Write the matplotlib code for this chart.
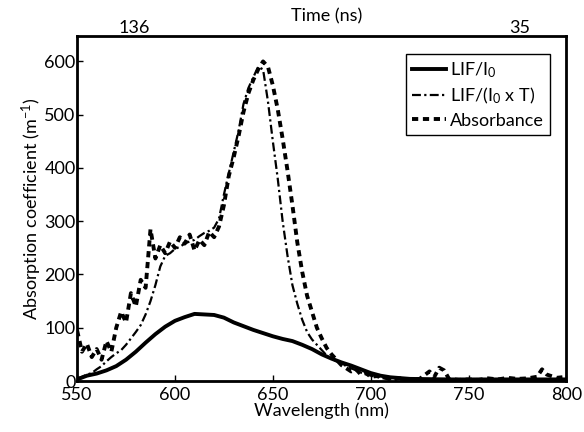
import matplotlib
matplotlib.use("Agg")
import matplotlib.pyplot as plt

plt.rcParams["font.family"] = ["Lato", "DejaVu Sans"]
plt.rcParams["mathtext.default"] = "regular"

# LIF/I0 (solid)
wl_lif = [550, 555, 560, 565, 570, 575, 580, 585, 590, 595, 600, 605, 610, 615,
          620, 625, 630, 635, 640, 645, 650, 655, 660, 665, 670, 675, 680, 685,
          690, 695, 700, 705, 710, 720, 740, 760, 780, 800]
lif = [3, 10, 14, 20, 28, 40, 55, 72, 88, 102, 113, 120, 126, 125,
       124, 119, 110, 103, 96, 90, 84, 79, 75, 68, 60, 50, 42, 35,
       29, 22, 15, 10, 7, 4, 3, 3, 3, 3]

# LIF/(I0 x T) (dash-dot)
wl_lift = [550, 552.5, 555, 557.5, 560, 562.5, 565, 567.5, 570, 572.5, 575, 577.5,
           580, 582.5, 585, 587.5, 590, 592.5, 595, 597.5, 600, 602.5, 605, 607.5,
           610, 612.5, 615, 617.5, 620, 622.5, 625, 627.5, 630, 632.5, 635, 637.5,
           640, 642.5, 645, 647.5, 650, 652.5, 655, 657.5, 660, 662.5, 665, 667.5,
           670, 672.5, 675, 677.5, 680, 682.5, 685, 687.5, 690, 695, 700, 705, 710,
           720, 740, 760, 780, 800]
lift = [5, 8, 12, 15, 22, 28, 37, 45, 52, 58, 68, 80,
        92, 105, 125, 150, 180, 215, 235, 240, 248, 252, 258, 262,
        265, 272, 278, 282, 288, 305, 350, 390, 430, 470, 520, 550,
        570, 590, 585, 525, 450, 380, 300, 235, 180, 145, 115, 92,
        78, 68, 58, 48, 42, 37, 33, 28, 24, 16, 10, 6, 3,
        2, 1, 1, 1, 1]

# Absorbance (dashed)
wl_abs = [550, 552.5, 555, 557.5, 560, 562.5, 565, 567.5, 570, 572.5, 575, 577.5,
          580, 582.5, 585, 587.5, 590, 592.5, 595, 597.5, 600, 602.5, 605, 607.5,
          610, 612.5, 615, 617.5, 620, 622.5, 625, 627.5, 630, 632.5, 635, 637.5,
          640, 642.5, 645, 647.5, 650, 652.5, 655, 657.5, 660, 662.5, 665, 667.5,
          670, 672.5, 675, 677.5, 680, 682.5, 685, 687.5, 690, 692.5, 695, 697.5,
          700, 705, 710, 715, 720, 725, 730, 732.5, 735, 737.5, 740, 745, 750,
          755, 760, 765, 770, 775, 780, 785, 787.5, 790, 795, 800]
absb = [95, 55, 70, 45, 60, 40, 75, 55, 100, 130, 110, 165,
        140, 190, 175, 285, 230, 255, 240, 262, 250, 270, 258, 275,
        245, 265, 255, 280, 270, 290, 330, 385, 420, 460, 505, 540,
        565, 585, 600, 590, 555, 510, 455, 395, 330, 260, 205, 160,
        130, 100, 80, 62, 50, 40, 30, 24, 18, 22, 12, 15,
        8, 10, 3, 5, 2, 4, 18, 8, 25, 20, 4, 2, 3,
        2, 5, 3, 6, 4, 5, 8, 22, 12, 6, 8]

fig = plt.figure(figsize=(5.84, 4.32), dpi=100)
ax = fig.add_axes([0.132, 0.118, 0.838, 0.799])

ax.plot(wl_lif, lif, "-", color="k", lw=2.8, label="LIF/I$_0$")
ax.plot(wl_lift, lift, "-.", color="k", lw=1.6, dashes=(4, 1.5, 1, 1.5), label="LIF/(I$_0$ x T)")
ax.plot(wl_abs, absb, "--", color="k", lw=2.8, dashes=(1.6, 1.2), label="Absorbance")

ax.set_xlim(550, 800)
ax.set_ylim(0, 648)
ax.set_xticks([550, 600, 650, 700, 750, 800])
ax.set_yticks([0, 100, 200, 300, 400, 500, 600])
ax.tick_params(direction="in", length=4, width=1, labelsize=13, pad=1)
ax.tick_params(axis="x", pad=4)
for s in ax.spines.values():
    s.set_linewidth(2)
ax.set_xlabel("Wavelength (nm)", fontsize=13, labelpad=0)
ax.set_ylabel("Absorption coefficient (m$^{-1}$)", fontsize=13, labelpad=0)

top = ax.twiny()
top.set_xlim(550, 800)
top.set_xticks([579, 776])
top.set_xticklabels(["136", "35"])
top.tick_params(length=0, labelsize=13, pad=0)
fig.text(0.56, 1 - 16 / 432, "Time (ns)", fontsize=13, ha="center", va="center")

leg = ax.legend(loc="upper right", fontsize=13, handlelength=1.9, handletextpad=0.2,
                labelspacing=0.35, borderpad=0.35, fancybox=False, framealpha=1,
                bbox_to_anchor=(0.985, 0.975))
leg.get_frame().set_edgecolor("k")
leg.get_frame().set_linewidth(1)

fig.savefig("out.png", dpi=100)
